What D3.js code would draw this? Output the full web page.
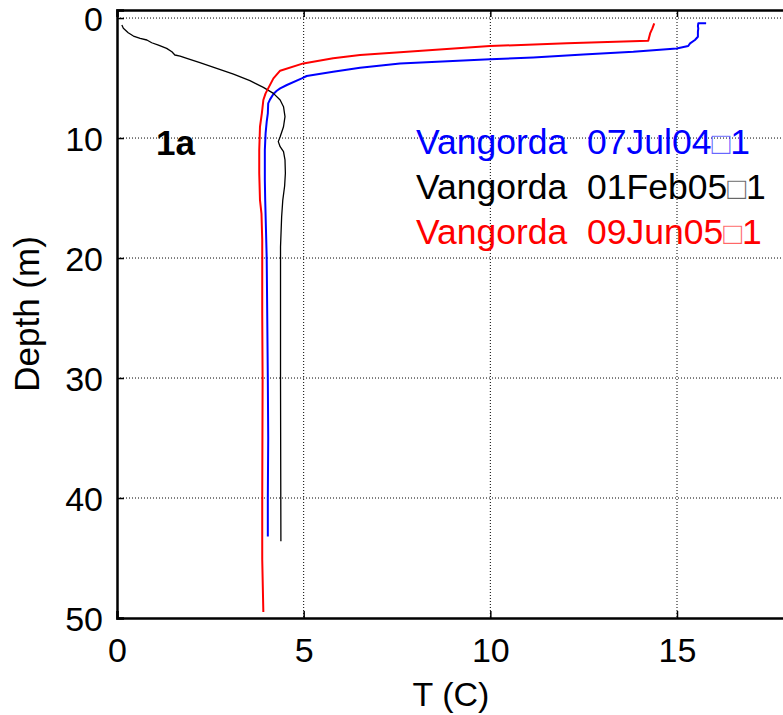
<!DOCTYPE html>
<html>
<head>
<meta charset="utf-8">
<script src="https://cdn.jsdelivr.net/npm/d3@7"></script>
<style>
  html, body { margin: 0; padding: 0; background: #fff; }
  svg { display: block; font-family: "Liberation Sans", Arial, Helvetica, sans-serif; }
</style>
</head>
<body>
<svg id="chart" width="783" height="715"></svg>
<script>
// Temperature profiles, Vangorda: [temperature (C), depth (m)]
const jul04 = [
  [15.78, 0.44], [15.57, 0.44], [15.56, 0.67], [15.57, 0.86], [15.56, 1.14], [15.56, 1.56],
  [15.48, 1.83], [15.35, 2.11], [15.30, 2.33], [14.99, 2.53], [13.83, 2.81], [12.49, 3.03],
  [11.15, 3.28], [9.99, 3.44], [7.58, 3.78], [6.51, 4.14], [5.79, 4.47], [5.08, 4.83],
  [4.95, 5.03], [4.55, 5.58], [4.37, 5.86], [4.28, 6.06], [4.19, 6.33], [4.10, 6.78],
  [4.05, 7.11], [4.04, 7.94], [4.01, 8.64], [3.98, 9.61], [3.96, 11.0], [3.96, 13.5],
  [3.97, 15.2], [4.01, 20.0], [4.04, 30.0], [4.05, 35.0], [4.04, 40.0], [4.04, 43.2]
];
const feb05 = [
  [0.13, 0.58], [0.17, 0.86], [0.30, 1.22], [0.44, 1.50], [0.62, 1.69], [0.80, 1.83],
  [0.93, 2.06], [1.11, 2.25], [1.33, 2.53], [1.47, 2.81], [1.55, 3.08], [1.69, 3.17],
  [1.87, 3.36], [2.22, 3.72], [2.67, 4.19], [3.12, 4.67], [3.56, 5.22], [3.92, 5.78],
  [4.19, 6.28], [4.37, 6.83], [4.46, 7.39], [4.50, 8.22], [4.46, 9.06], [4.37, 9.89],
  [4.32, 10.3], [4.37, 10.72], [4.46, 11.14], [4.50, 11.83], [4.51, 12.94], [4.49, 14.0],
  [4.44, 15.2], [4.41, 16.56], [4.38, 19.06], [4.38, 24.6], [4.38, 30.2], [4.39, 43.6]
];
const jun05 = [
  [14.39, 0.44], [14.34, 0.86], [14.28, 1.28], [14.23, 1.89], [12.05, 2.11], [9.99, 2.33],
  [7.58, 2.86], [6.51, 3.08], [5.79, 3.36], [4.99, 3.78], [4.37, 4.39], [4.19, 5.03],
  [4.05, 5.86], [3.98, 6.28], [3.92, 6.83], [3.88, 7.94], [3.83, 9.06], [3.81, 11.0],
  [3.81, 12.94], [3.83, 15.17], [3.87, 16.3], [3.89, 18.5], [3.89, 24.6], [3.90, 30.2],
  [3.89, 40.0], [3.89, 45.1], [3.92, 49.5]
];

// legend entries: station, date, missing-glyph box, cast number
const seriesStations = ["Vangorda", "Vangorda", "Vangorda"];
const seriesDates = ["07Jul04", "01Feb05", "09Jun05"];
const seriesCasts = ["1", "1", "1"];
const seriesColors = ["#0000ff", "#000000", "#ff0000"];
const seriesData = [jul04, feb05, jun05];
const seriesWidths = [2, 1.3, 2];

const xTicks = [0, 5, 10, 15];
const yTicks = [0, 10, 20, 30, 40, 50];
const panelLabel = "1a";
const xTitle = "T (C)";
const yTitle = "Depth (m)";

const svg = d3.select("#chart");
const plotL = 117, plotR = 789, plotT = 10, plotB = 618;

const x = d3.scaleLinear().domain([0, 18]).range([plotL, plotR]);
const y = d3.scaleLinear().domain([-0.67, 50]).range([plotT, plotB]);

// dotted grid
const grid = svg.append("g").attr("stroke", "#000").attr("stroke-width", 1)
  .attr("stroke-dasharray", "1,2");
grid.selectAll(".gx").data(xTicks.filter(d => d > 0)).join("line")
  .attr("x1", d => x(d)).attr("x2", d => x(d))
  .attr("y1", plotT).attr("y2", plotB);
grid.selectAll(".gy").data(yTicks.filter(d => d < 50)).join("line")
  .attr("x1", plotL).attr("x2", plotR)
  .attr("y1", d => y(d)).attr("y2", d => y(d));

// profiles
const line = d3.line().x(d => x(d[0])).y(d => y(d[1]));
svg.append("g").selectAll("path").data(seriesData).join("path")
  .attr("d", line)
  .attr("fill", "none")
  .attr("stroke", (d, i) => seriesColors[i])
  .attr("stroke-width", (d, i) => seriesWidths[i])
  .attr("stroke-linejoin", "round");

// axes with inward ticks
const fs = 34;
const xAxis = svg.append("g").attr("transform", `translate(0,${plotB})`)
  .call(d3.axisBottom(x).tickValues(xTicks).tickSize(-7).tickPadding(20).tickFormat(d3.format("d")));
const xTop = svg.append("g").attr("transform", `translate(0,${plotT})`)
  .call(d3.axisTop(x).tickValues(xTicks).tickSize(-7).tickFormat(""));
const yAxis = svg.append("g").attr("transform", `translate(${plotL},0)`)
  .call(d3.axisLeft(y).tickValues(yTicks).tickSize(-7).tickPadding(14).tickFormat(d3.format("d")));

[xAxis, xTop, yAxis].forEach(g => {
  g.select(".domain").attr("stroke", "#000").attr("stroke-width", 2.5);
  g.selectAll(".tick line").attr("stroke", "#000").attr("stroke-width", 1.5);
  g.selectAll(".tick text").attr("fill", "#000")
    .attr("font-size", fs).attr("font-family", "Liberation Sans, Arial, sans-serif");
});
yAxis.selectAll(".tick text").attr("dy", "0.36em");
xAxis.selectAll(".tick text").attr("dy", "0.71em");

// axis titles
svg.append("text").attr("x", 451).attr("y", 706).attr("text-anchor", "middle")
  .attr("font-size", fs).attr("fill", "#000").text(xTitle);
svg.append("text")
  .attr("transform", `translate(39,${(plotT + plotB) / 2}) rotate(-90)`)
  .attr("text-anchor", "middle").attr("font-size", 35).attr("fill", "#000").text(yTitle);

// panel label
svg.append("text").attr("x", 156).attr("y", 155)
  .attr("font-size", 35).attr("font-weight", "bold").attr("fill", "#000").text(panelLabel);

// legend text
const legend = svg.append("g").selectAll("text").data(seriesStations).join("text")
  .attr("x", 416).attr("y", (d, i) => 154 + i * 45)
  .attr("font-size", 35.5)
  .attr("fill", (d, i) => seriesColors[i])
  .attr("xml:space", "preserve")
  .style("white-space", "pre");
legend.append("tspan").text((d, i) => `${d}  ${seriesDates[i]}`);
legend.append("tspan").attr("font-size", 31).attr("fill-opacity", 0.6).text("\u25A1");
legend.append("tspan").text((d, i) => seriesCasts[i]);
</script>
</body>
</html>
